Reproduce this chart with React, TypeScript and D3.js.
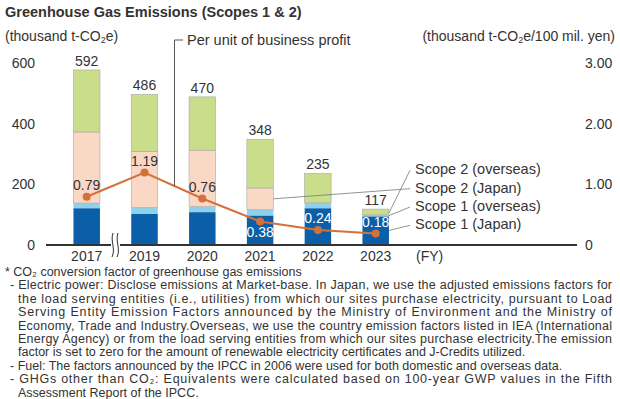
import React from 'react';
import { scaleLinear, scalePoint, stack, line } from 'd3';

const years = ['2017', '2019', '2020', '2021', '2022', '2023'];
// thousand t-CO2e
const scope1Japan = [120, 102, 107, 96, 120, 93];
const scope1Overseas = [17, 21, 19, 19, 18, 5];
const scope2Japan = [235, 185, 186, 72, 0, 0];
const scope2Overseas = [205, 188, 176, 161, 97, 19];
const totals = [592, 486, 470, 348, 235, 117];
// thousand t-CO2e / 100 mil. yen
const intensity = [0.79, 1.19, 0.76, 0.38, 0.24, 0.18];
const leftTicks = [0, 200, 400, 600];
const rightTicks = [0, 1, 2, 3];

const keys = ['s1j', 's1o', 's2j', 's2o'];
const legendNames = ['Scope 1 (Japan)', 'Scope 1 (overseas)', 'Scope 2 (Japan)', 'Scope 2 (overseas)'];
const colors: Record<string, string> = { s1j: '#0b5fa8', s1o: '#8fd0ea', s2j: '#f9d8c6', s2o: '#c9dd8b' };

const footnote = [
  { t: '* CO\u2082 conversion factor of greenhouse gas emissions', x: 5, w: 0 },
  { t: '- Electric power: Disclose emissions at Market-base. In Japan, we use the adjusted emissions factors for', x: 10, w: 602 },
  { t: 'the load serving entities (i.e., utilities) from which our sites purchase electricity, pursuant to Load', x: 18, w: 594 },
  { t: 'Serving Entity Emission Factors announced by the Ministry of Environment and the Ministry of', x: 18, w: 594 },
  { t: 'Economy, Trade and Industry.Overseas, we use the country emission factors listed in IEA (International', x: 18, w: 594 },
  { t: 'Energy Agency) or from the load serving entities from which our sites purchase electricity.The emission', x: 18, w: 594 },
  { t: 'factor is set to zero for the amount of renewable electricity certificates and J-Credits utilized.', x: 18, w: 0 },
  { t: '- Fuel: The factors announced by the IPCC in 2006 were used for both domestic and overseas data.', x: 10, w: 0 },
  { t: '- GHGs other than CO\u2082: Equivalents were calculated based on 100-year GWP values in the Fifth', x: 10, w: 602 },
  { t: 'Assessment Report of the IPCC.', x: 18, w: 0 },
];

const font = '"Liberation Sans", Arial, Helvetica, sans-serif';
const ink = '#333';

export default function App() {
  const x = scalePoint<string>().domain(years).range([86.7, 375.7]);
  const barW = 26.5;
  const y = scaleLinear().domain([0, 600]).range([244.5, 63]);
  const y2 = scaleLinear().domain([0, 3]).range([244.5, 63]);

  const rows = years.map((yr, i) => ({
    year: yr, s1j: scope1Japan[i], s1o: scope1Overseas[i], s2j: scope2Japan[i], s2o: scope2Overseas[i],
  }));
  const layers = stack<any>().keys(keys)(rows);

  const linePath = line<number>()
    .x((_, i) => x(years[i])!)
    .y(d => y2(d))(intensity);

  // legend leaders point at the last bar (and the 2021 Scope 2 Japan segment)
  const last = layers.map(l => l[5]);
  const right23 = x('2023')! + barW / 2;
  const right21 = x('2021')! + barW / 2;
  const legendY = [224.3, 206, 187.7, 169.3];
  const leaderTargets = [
    [right23, y((last[0][0] + last[0][1]) / 2)],
    [right23, y((last[1][0] + last[1][1]) / 2)],
    [right21, y((layers[2][3][0] + layers[2][3][1]) / 2)],
    [right23, y((last[3][0] + last[3][1]) / 2) + 1],
  ];

  // leader for intensity line, between 2019 and 2020
  const px = 174.5;
  const t = (px - x('2019')!) / (x('2020')! - x('2019')!);
  const py = y2(intensity[1]) + t * (y2(intensity[2]) - y2(intensity[1]));

  return (
    <svg width={620} height={399} style={{ position: 'absolute', left: 0, top: 0, background: '#fff' }}
      fontFamily={font} fill={ink}>
      <text x={5} y={17} fontSize={14.5} fontWeight="bold">Greenhouse Gas Emissions (Scopes 1 &amp; 2)</text>

      <text x={5} y={41} fontSize={14}>
        (thousand t-CO<tspan fontSize={9} dy={2}>2</tspan><tspan dy={-2}>e)</tspan>
      </text>
      <text x={615} y={41} fontSize={14} textAnchor="end">
        (thousand t-CO<tspan fontSize={9} dy={2}>2</tspan><tspan dy={-2}>e/100 mil. yen)</tspan>
      </text>

      {leftTicks.map(v => (
        <text key={v} x={35} y={y(v)} fontSize={14} textAnchor="end" dominantBaseline="central">{v}</text>
      ))}
      {rightTicks.map(v => (
        <text key={v} x={585} y={y2(v)} fontSize={14} dominantBaseline="central">{v === 0 ? '0' : v.toFixed(2)}</text>
      ))}

      {layers.map(layer => (
        <g key={layer.key} fill={colors[layer.key]}
          stroke={layer.key === 's2o' || layer.key === 's2j' ? '#a9a9a0' : 'none'} strokeWidth={0.6}>
          {layer.map((d, i) => d[1] - d[0] > 0 ? (
            <rect key={i} x={x(years[i])! - barW / 2} width={barW} y={y(d[1])} height={y(d[0]) - y(d[1])} />
          ) : null)}
        </g>
      ))}

      {totals.map((v, i) => (
        <text key={i} x={x(years[i])} y={y(layers[3][i][1]) - 9} fontSize={14} textAnchor="middle"
          dominantBaseline="central">{v}</text>
      ))}

      {/* baseline with break */}
      <line x1={46} x2={577} y1={245} y2={245} stroke="#333" strokeWidth={2} />
      <rect x={111} y={240} width={9} height={10} fill="#fff" />
      <path d="M113,233 C110,241 116,249 112,257" fill="none" stroke="#333" strokeWidth={1} />
      <path d="M118,233 C115,241 121,249 117,257" fill="none" stroke="#333" strokeWidth={1} />

      {years.map(yr => (
        <text key={yr} x={x(yr)} y={256} fontSize={14} textAnchor="middle" dominantBaseline="central">{yr}</text>
      ))}
      <text x={416} y={256} fontSize={14} dominantBaseline="central">(FY)</text>

      {/* intensity line */}
      <path d={linePath!} fill="none" stroke="#d6703a" strokeWidth={2} />
      {intensity.map((v, i) => (
        <circle key={i} cx={x(years[i])} cy={y2(v)} r={4} fill="#d6703a" />
      ))}
      {intensity.map((v, i) => (
        <text key={i} x={x(years[i])} y={y2(v) + (i === 3 ? 10.5 : -12)} fontSize={14} textAnchor="middle"
          dominantBaseline="central" fill={i >= 3 ? '#fff' : ink}>{v.toFixed(2)}</text>
      ))}

      <path d={`M183,40 H${px} V${py}`} fill="none" stroke="#555" strokeWidth={1} />
      <text x={187} y={40} fontSize={14.5} dominantBaseline="central">Per unit of business profit</text>

      {legendNames.map((n, i) => (
        <g key={n}>
          <line x1={leaderTargets[i][0]} y1={leaderTargets[i][1]} x2={410} y2={legendY[i] + 1}
            stroke="#777" strokeWidth={0.8} />
          <text x={415} y={legendY[i]} fontSize={14.5} dominantBaseline="central">{n}</text>
        </g>
      ))}

      {footnote.map((l, i) => (
        <text key={i} x={l.x} y={276 + i * 13.4} fontSize={12.5}
          {...(l.w ? { textLength: l.w, lengthAdjust: 'spacing' } : {})}>{l.t}</text>
      ))}
    </svg>
  );
}
